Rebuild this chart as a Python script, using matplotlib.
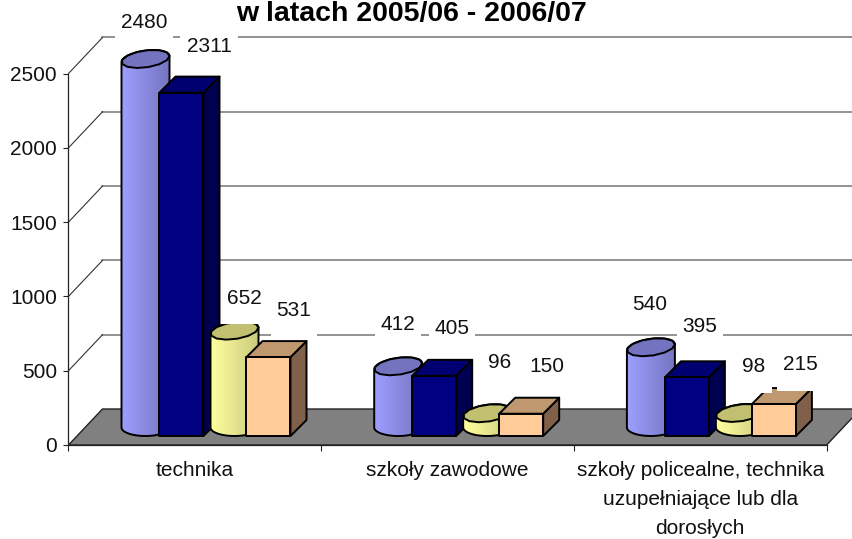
import numpy as np
import matplotlib
matplotlib.use('Agg')
import matplotlib.pyplot as plt
from matplotlib.patches import Polygon, Rectangle

plt.rcParams['font.family'] = ['Liberation Sans', 'DejaVu Sans']

# values
categories = ['technika', 'szkoły zawodowe',
              'szkoły policealne, technika\nuzupełniające lub dla\ndorosłych']
series_1 = [2480, 412, 540]
series_2 = [2311, 405, 395]
series_3 = [652, 96, 98]
series_4 = [531, 150, 215]
y_ticks = [0, 500, 1000, 1500, 2000, 2500]
title_text = 'w latach 2005/06 - 2006/07'

# size of one value / one group in pixels of the final picture
W, H = 853, 539
X0, Y0 = 68.5, 445.0
PX_PER_GROUP = 252.7
PX_PER_VALUE = 371.5 / 2500
WALL_DX, WALL_DY = 34, 36
BASE_LIFT = 9
BAR_W = 44
BAR_DEPTH = 16
CYL_W = 48
CYL_H = 17
CYL_TILT = 3

# pixel positions of the value labels (centre of the text)
label_pos = [
    [(144, 23), (398, 325), (650, 305)],
    [(209, 47), (452, 329), (700, 326)],
    [(244, 298), (500, 363), (754, 367)],
    [(294, 311), (547, 367), (800, 365)],
]


def dx(px):
    return px / PX_PER_GROUP


def dy(px):
    return px / PX_PER_VALUE


def to_data(px_x, px_y):
    return (px_x - X0) / PX_PER_GROUP, (Y0 - px_y) / PX_PER_VALUE


fig = plt.figure(figsize=(W / 100, H / 100), dpi=100)
ax = fig.add_axes([X0 / W, 1 - Y0 / H, PX_PER_GROUP * 3 / W, 371.5 / H])
ax.set_xlim(0, 3)
ax.set_ylim(0, 2500)
ax.patch.set_visible(False)

z = 1


def draw_box(group, offset, value, face, top, side):
    global z
    x0 = group + dx(offset)
    x1 = x0 + dx(BAR_W)
    y0 = dy(BASE_LIFT)
    y1 = y0 + value
    ddx, ddy = dx(BAR_DEPTH), dy(BAR_DEPTH)
    style = dict(edgecolor='black', linewidth=1.4, joinstyle='round', clip_on=False, zorder=z)
    ax.add_patch(Polygon([(x1, y0), (x1 + ddx, y0 + ddy), (x1 + ddx, y1 + ddy), (x1, y1)],
                         facecolor=side, **style))
    ax.add_patch(Polygon([(x0, y1), (x1, y1), (x1 + ddx, y1 + ddy), (x0 + ddx, y1 + ddy)],
                         facecolor=top, **style))
    ax.add_patch(Rectangle((x0, y0), x1 - x0, y1 - y0, facecolor=face, **style))
    z += 1


def draw_cylinder(group, offset, value, light, dark, top):
    global z
    cx = group + dx(offset + CYL_W / 2)
    rx, ry = dx(CYL_W / 2), dy(CYL_H / 2)
    tilt = dy(CYL_TILT)
    y_low = dy(BASE_LIFT) + ry
    y_top = dy(BASE_LIFT) + value + ry
    t = np.linspace(0, np.pi, 40)
    # outline: lower half of bottom ellipse, then up to the top ellipse
    xs = np.concatenate([cx - rx * np.cos(t), cx + rx * np.cos(t)])
    ys = np.concatenate([y_low - ry * np.sin(t),
                         y_top + ry * np.sin(t) + tilt * np.cos(t)])
    body = Polygon(np.column_stack([xs, ys]), closed=True, facecolor='none',
                   edgecolor='black', linewidth=1.4, clip_on=False, zorder=z + 0.2)
    ax.add_patch(body)
    # gradient of the body, clipped to the outline
    n = 24
    mix = np.linspace(0, 1, n).reshape(1, n, 1)
    grad = (1 - mix) * np.array(light).reshape(1, 1, 3) + mix * np.array(dark).reshape(1, 1, 3)
    img = ax.imshow(grad, extent=(cx - rx, cx + rx, y_low - ry, y_top + ry + tilt),
                    aspect='auto', zorder=z + 0.1, interpolation='bilinear')
    img.set_clip_box(fig.bbox)
    img.set_clip_path(body)
    # top ellipse, a little tilted and with corners like the low-res original
    a = np.linspace(0, 2 * np.pi, 14)
    ax.add_patch(Polygon(np.column_stack([cx + rx * np.cos(a),
                                          y_top + ry * np.sin(a) + tilt * np.cos(a)]),
                         facecolor=top, edgecolor='black', linewidth=1.4,
                         clip_on=False, zorder=z + 0.3))
    z += 1


# floor
ax.add_patch(Polygon([(0, 0), (dx(WALL_DX), dy(WALL_DY)), (3 + dx(WALL_DX), dy(WALL_DY)), (3, 0)],
                     facecolor='#808080', edgecolor='#222222', linewidth=1.0,
                     clip_on=False, zorder=0.5))

# grid on back wall with the diagonal pieces on the side wall
for tick in y_ticks[1:]:
    ax.plot([dx(WALL_DX), 3 + dx(WALL_DX)], [tick + dy(WALL_DY)] * 2, color='#808080',
            linewidth=1.2, clip_on=False, zorder=0.4)
    ax.plot([0, dx(WALL_DX)], [tick, tick + dy(WALL_DY)], color='#333333',
            linewidth=0.8, clip_on=False, zorder=0.4)

for i in range(3):
    draw_cylinder(i, 53, series_1[i], (0.62, 0.62, 1.0), (0.46, 0.46, 0.76), '#7373BF')
    draw_box(i, 91, series_2[i], '#000080', '#000070', '#000050')
    draw_cylinder(i, 142, series_3[i], (1.0, 1.0, 0.62), (0.80, 0.80, 0.50), '#C0C070')
    draw_box(i, 178, series_4[i], '#FFCC99', '#C09870', '#806048')

ax.set_xlim(0, 3)
ax.set_ylim(0, 2500)

# value labels sit on white boxes that hide what is behind them
all_series = [series_1, series_2, series_3, series_4]
for s, values in enumerate(all_series):
    for i, v in enumerate(values):
        px, py = label_pos[s][i]
        hw = 6 + 5.8 * len(str(v))
        bx, by = to_data(px - hw, py + 26)
        ax.add_patch(Rectangle((bx, by), dx(2 * hw), dy(52), facecolor='white', edgecolor='none',
                               clip_on=False, zorder=20))
        tx, ty = to_data(px, py)
        ax.text(tx, ty, str(v), fontsize=15, ha='center', va='center', color='#111111',
                clip_on=False, zorder=21)

# axes
for name in ['top', 'right']:
    ax.spines[name].set_visible(False)
for name in ['left', 'bottom']:
    ax.spines[name].set_linewidth(0.9)
    ax.spines[name].set_color('#222222')
    ax.spines[name].set_zorder(1)
ax.set_yticks(y_ticks)
ax.set_xticks([0, 1, 2, 3])
ax.set_xticklabels([])
ax.set_xticks([0.5, 1.5, 2.5], minor=True)
ax.set_xticklabels(categories, minor=True, fontsize=15, linespacing=1.66, color='#111111')
ax.tick_params(axis='x', which='major', length=4.3, width=0.8, color='#222222')
ax.tick_params(axis='x', which='minor', length=0, pad=11.7)
ax.tick_params(axis='y', length=3.4, width=0.8, color='#222222', pad=5, labelsize=15, labelcolor='#111111')

fig.text(411 / W, 1 - 21 / H, title_text, fontsize=20.5, fontweight='bold', ha='center', va='baseline')

fig.savefig('out.png', dpi=100)
